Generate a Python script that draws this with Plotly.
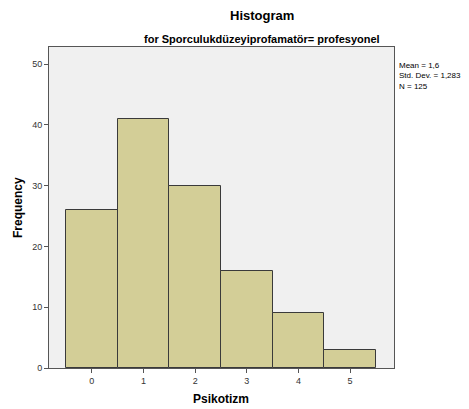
import plotly.graph_objects as go

categories = [0, 1, 2, 3, 4, 5]
frequencies = [26, 41, 30, 16, 9, 3]
tick_labels = ["0", "1", "2", "3", "4", "5"]
y_ticks = [0, 10, 20, 30, 40, 50]

FONT = "Liberation Sans, Arial, sans-serif"

# page body has an 8px margin, so the figure is drawn from (8, 8)
OFF = 8
W, H = 469 - OFF, 409 - OFF
L, T, R, B = 49, 47, 394, 368          # plot box in window pixels
l, t = L - OFF, T - OFF
r, b = 469 - R, 409 - B
pw, ph = W - l - r, H - t - b

def px(x):
    return (x - OFF - l) / pw

def py(y):
    return (H - b - (y - OFF)) / ph

def ann(text, x, y, size, bold=True, **kw):
    d = dict(text=f"<b>{text}</b>" if bold else text, x=px(x), y=py(y),
             xref="paper", yref="paper", showarrow=False,
             xanchor="center", yanchor="middle",
             font=dict(size=size, color="black", family=FONT))
    d.update(kw)
    return d

fig = go.Figure(go.Bar(
    x=categories, y=frequencies, width=1,
    marker=dict(color="#D3CE97", line=dict(color="#3A3A3A", width=1)),
))

fig.update_layout(
    width=W, height=H,
    margin=dict(l=l, r=r, t=t, b=b, autoexpand=False),
    paper_bgcolor="white", plot_bgcolor="#F0F0F0",
    font=dict(family=FONT, size=9, color="#333333"),
    showlegend=False, bargap=0,
    annotations=[
        ann("Histogram", 262, 15, 13),
        ann("for Sporculukdüzeyiprofamatör= profesyonel", 262, 39, 11),
        ann("Mean = 1,6<br>Std. Dev. = 1,283<br>N = 125", 397, 59, 8, bold=False,
            align="left", xanchor="left", yanchor="top"),
        ann("Psikotizm", 221, 399, 12),
        ann("Frequency", 18, 208, 12, textangle=-90),
    ],
)

fig.update_xaxes(
    range=[-0.83, 5.85], tickvals=categories, ticktext=tick_labels,
    ticks="outside", ticklen=4, tickcolor="#555555",
    showline=True, linecolor="#555555", linewidth=1, mirror=True,
    showgrid=False, zeroline=False, automargin=False,
)
fig.update_yaxes(
    range=[0, 52.8], tickvals=y_ticks,
    ticks="outside", ticklen=4, tickcolor="#555555",
    showline=True, linecolor="#555555", linewidth=1, mirror=True,
    showgrid=False, zeroline=False, automargin=False,
)

fig.write_html("out.html")
